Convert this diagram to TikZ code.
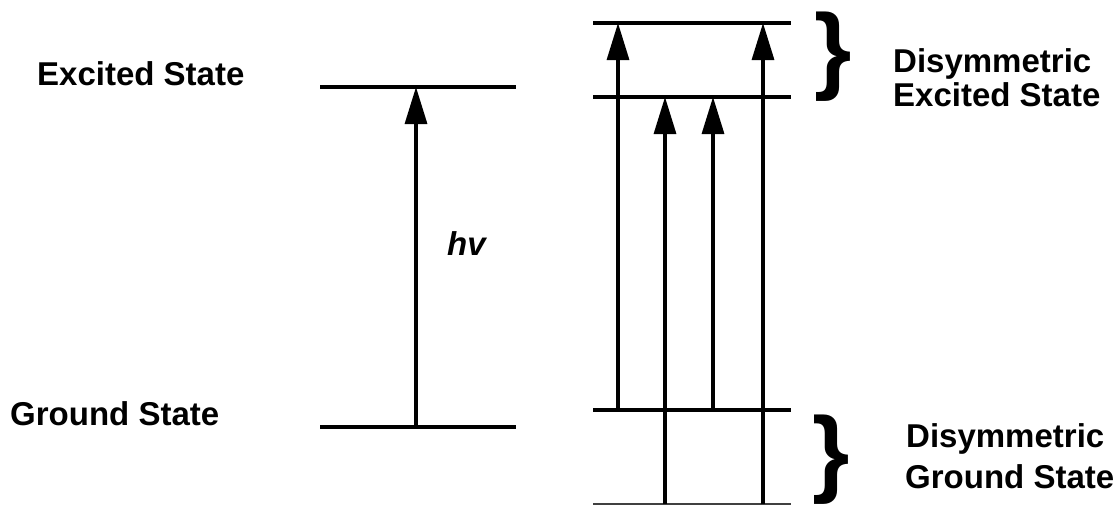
\documentclass[tikz,border=0pt]{standalone}
\usepackage{fontspec}
\setmainfont{Liberation Sans}
\usetikzlibrary{arrows.meta}
\begin{document}
\begin{tikzpicture}[x=1pt,y=-1pt,
  level/.style={line width=4pt},
  arr/.style={line width=3.2pt,-{Triangle[length=37pt,width=22pt]}},
  lbl/.style={anchor=base west,inner sep=0pt,font=\fontsize{33}{38}\selectfont\bfseries},
  brc/.style={inner sep=0pt,font=\fontsize{96}{100}\selectfont\bfseries}]
\useasboundingbox (0,0) rectangle (1116,506);
% left level diagram
\coordinate (E1) at (320,87);  \coordinate (E2) at (516,87);
\coordinate (G1) at (320,427); \coordinate (G2) at (516,427);
\draw[level] (E1) -- (E2);
\draw[level] (G1) -- (G2);
\coordinate (xa) at (416,0);
\draw[arr] (xa |- G1) -- (xa |- E1);
\node[lbl] (exc) at (37,85) {Excited State};
\node[lbl] (gnd) at (10,425) {Ground State};
\node[lbl,font=\fontsize{33}{38}\selectfont\bfseries\itshape] (hv) at (447,255) {hv};
% right level diagram
\coordinate (T1) at (593,23);  \coordinate (T2) at (791,23);
\coordinate (M1) at (593,97);  \coordinate (M2) at (791,97);
\coordinate (L1) at (593,410); \coordinate (L2) at (791,410);
\coordinate (B1) at (593,504); \coordinate (B2) at (791,504);
\draw[level] (T1) -- (T2);
\draw[level] (M1) -- (M2);
\draw[level] (L1) -- (L2);
\draw[level,line width=2.2pt,black!75] (B1) -- (B2);
\coordinate (x1) at (618,0);
\coordinate (x2) at (665,0);
\coordinate (x3) at (713,0);
\coordinate (x4) at (763,0);
\draw[arr] (x1 |- L1) -- (x1 |- T1);
\draw[arr] (x2 |- B1) -- (x2 |- M1);
\draw[arr] (x3 |- L1) -- (x3 |- M1);
\draw[arr] (x4 |- B1) -- (x4 |- T1);
% braces
\node[brc] (bt) at (833,57) {\}};
\node[brc] (bb) at (831,460) {\}};
\node[lbl] (dex1) at (893,72) {Disymmetric};
\node[lbl] (dex2) at (893,106) {Excited State};
\node[lbl] (dgr1) at (906,447) {Disymmetric};
\node[lbl] (dgr2) at (905,488) {Ground State};
\end{tikzpicture}
\end{document}
